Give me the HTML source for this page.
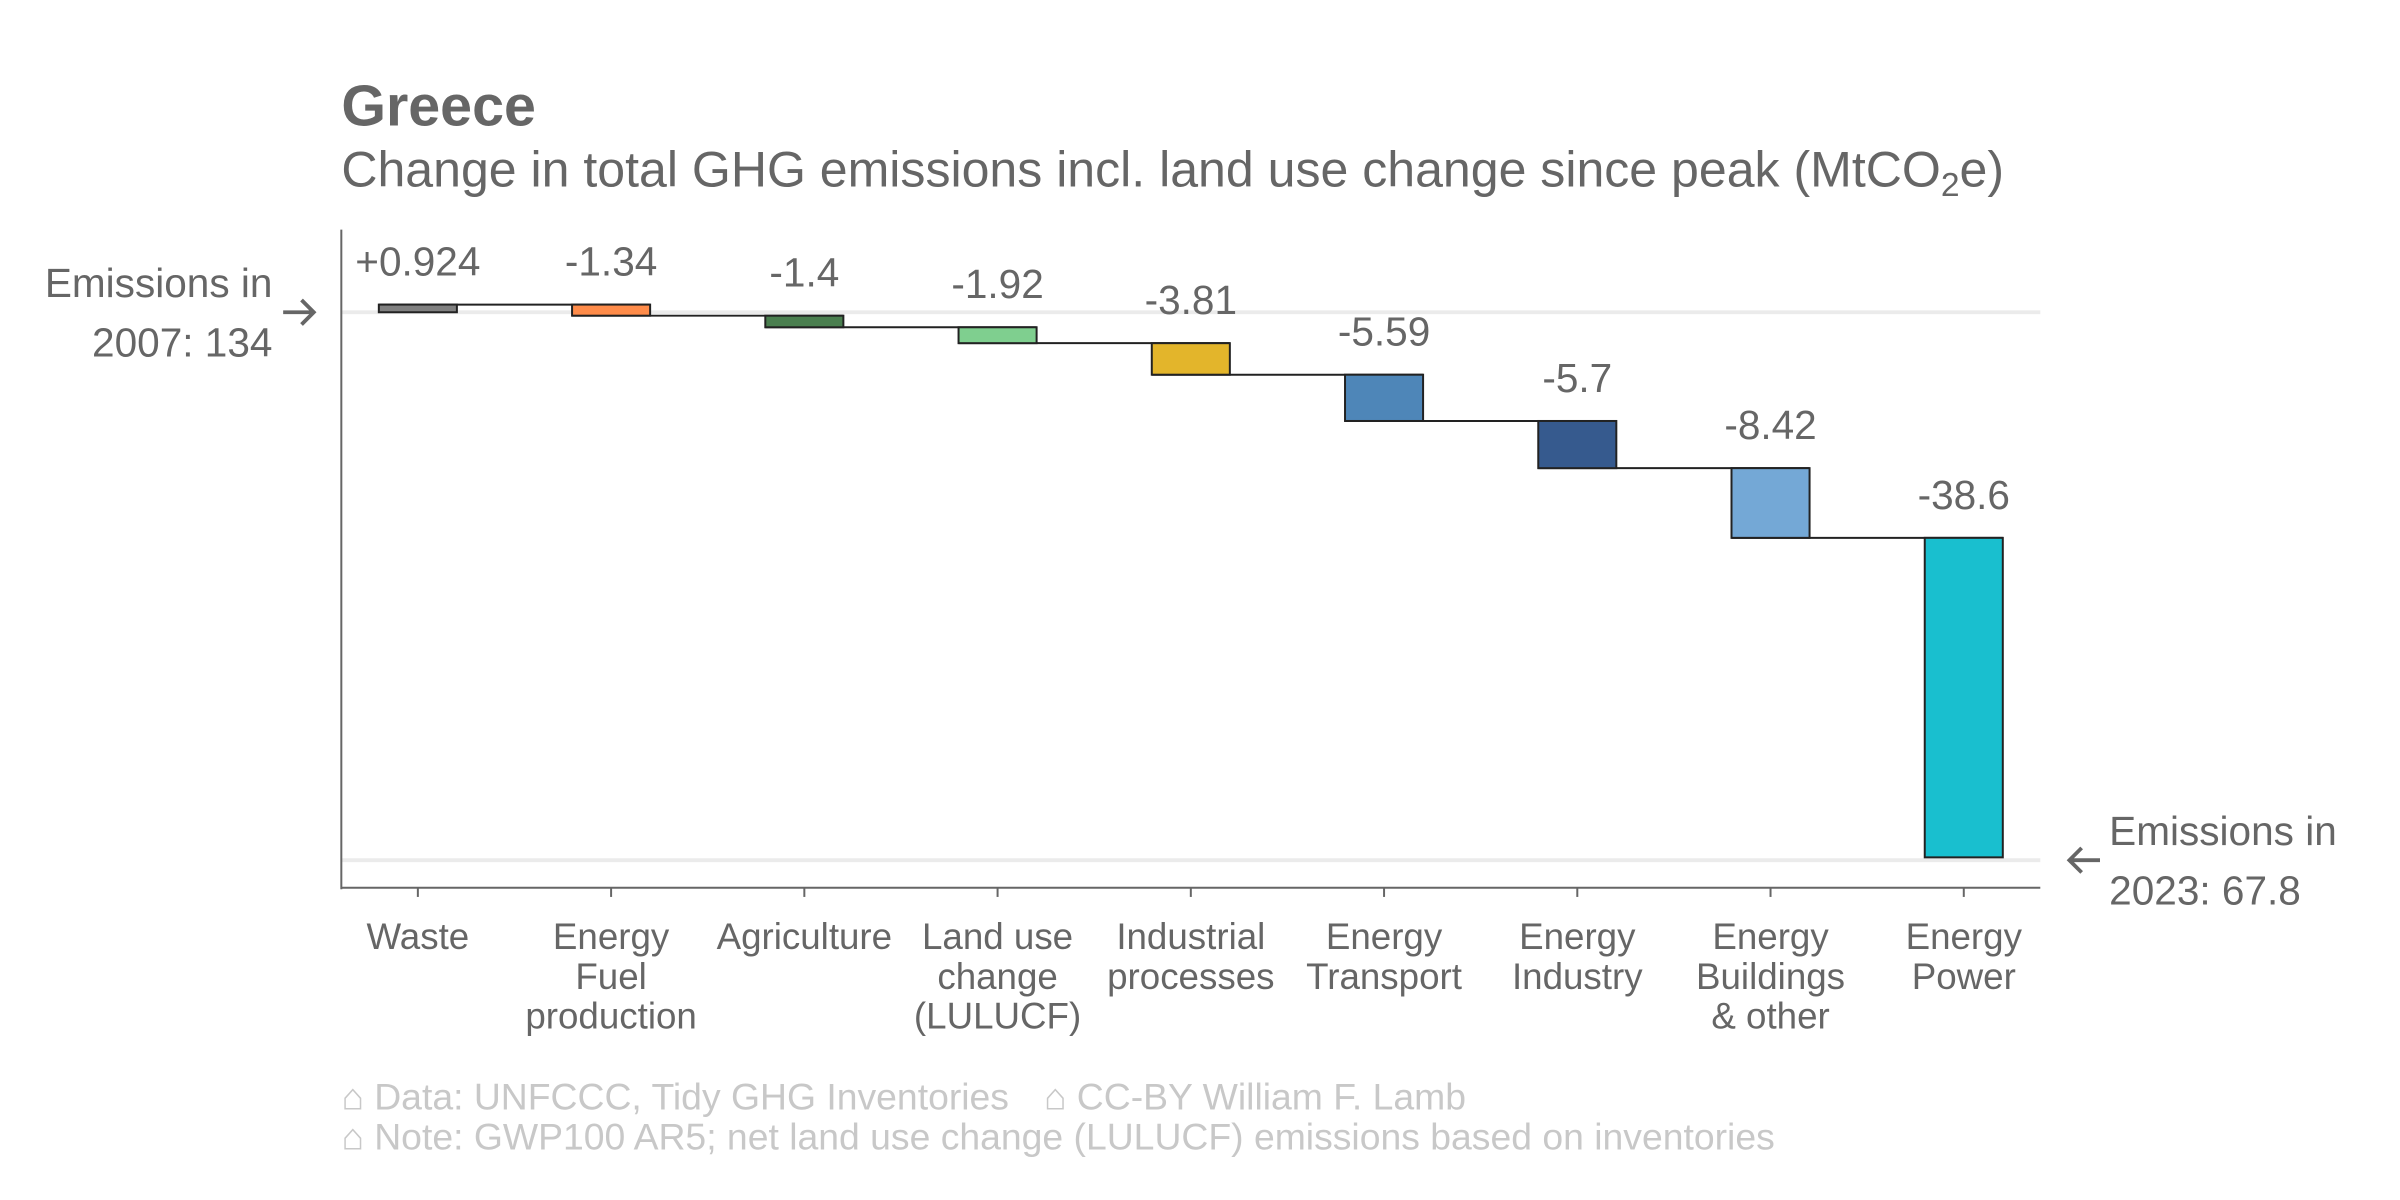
<!DOCTYPE html>
<html><head><meta charset="utf-8"><style>
html,body{margin:0;padding:0;background:#fff;}
svg{display:block;font-family:"Liberation Sans",Arial,sans-serif;}
</style></head><body>
<svg id="chart" width="2400" height="1200" viewBox="0 0 1568 784" xmlns="http://www.w3.org/2000/svg">
<text x="223" y="82" font-size="37.5" font-weight="bold" fill="#666">Greece</text>
<text x="223" y="122" font-size="32.7" fill="#666">Change in total GHG emissions incl. land use change since peak (MtCO<tspan font-size="22" dy="6">2</tspan><tspan dy="-6">e)</tspan></text>
<g id="grid"></g>
<line x1="223" y1="150" x2="223" y2="581" stroke="#666" stroke-width="1.3"/>
<line x1="223" y1="580" x2="1333" y2="580" stroke="#666" stroke-width="1.3"/>
<g id="bars"></g>
<g id="xlabels"></g>
<g fill="#666" font-size="26.5">
<text x="178" y="194" text-anchor="end">Emissions in</text>
<text x="178" y="233" text-anchor="end">2007: 134</text>
</g>
<path d="M185 204 H205 M197 196 L205 204 L197 212" stroke="#666" stroke-width="2.5" fill="none"/>
<path d="M1372 562 H1352 M1360 554 L1352 562 L1360 570" stroke="#666" stroke-width="2.5" fill="none"/>
<g fill="#666" font-size="26.5">
<text x="1378" y="552">Emissions in</text>
<text x="1378" y="591">2023: 67.8</text>
</g>
<g fill="#c8c8c8" font-size="24.4">
<text x="223" y="725">⌂ Data: UNFCCC, Tidy GHG Inventories</text>
<text x="682" y="725">⌂ CC-BY William F. Lamb</text>
<text x="223" y="751">⌂ Note: GWP100 AR5; net land use change (LULUCF) emissions based on inventories</text>
</g>
</svg>
<script>
const categories = [["Waste"],["Energy","Fuel","production"],["Agriculture"],["Land use","change","(LULUCF)"],["Industrial","processes"],["Energy","Transport"],["Energy","Industry"],["Energy","Buildings","& other"],["Energy","Power"]];
const values = [0.924,-1.34,-1.4,-1.92,-3.81,-5.59,-5.7,-8.42,-38.6];
const valueLabels = ["+0.924","-1.34","-1.4","-1.92","-3.81","-5.59","-5.7","-8.42","-38.6"];
const colors = ["#808080","#ff8c4a","#4a7f4f","#7fcf8f","#e3b52b","#4e86b8","#365a8e","#74a8d6","#19bfcf"];
const startValue = 134;
const endValue = 67.8;

const NS="http://www.w3.org/2000/svg";
const y = v => 204 + (startValue - v) * (562-204)/(startValue-endValue);
const x = i => 273 + i*126.25;
const bw = 51;
function mk(tag, attrs, parent){const e=document.createElementNS(NS,tag);for(const k in attrs)e.setAttribute(k,attrs[k]);parent.appendChild(e);return e;}
const grid=document.getElementById('grid'), bars=document.getElementById('bars'), xl=document.getElementById('xlabels');
[startValue,endValue].forEach(v=>{
  const l=mk('line',{x1:223,x2:1333,y1:y(v),y2:y(v),stroke:'#ebebeb','stroke-width':2.5},grid);
  
  
});
let cum=startValue;
values.forEach((v,i)=>{
  const a=cum, b=cum+v;
  const top=Math.min(y(a),y(b)), h=Math.abs(y(a)-y(b));
  if(i<values.length-1){
    const c=mk('line',{x1:x(i)-bw/2,x2:x(i+1)+bw/2,y1:y(b),y2:y(b),stroke:'#222','stroke-width':1.3},bars);
    
    
  }
  const r=mk('rect',{x:x(i)-bw/2,y:top,width:bw,height:Math.max(h,1),fill:colors[i],stroke:'#222','stroke-width':1.3},bars);
  
  
  const t=mk('text',{x:x(i),y:top-19,'text-anchor':'middle','font-size':26.5,fill:'#666'},bars);
  t.textContent=valueLabels[i];
  
  
  const tk=mk('line',{x1:x(i),x2:x(i),y1:580,y2:586,stroke:'#666','stroke-width':1.3},xl);
  
  
  const lt=mk('text',{x:x(i),y:620,'text-anchor':'middle','font-size':24,fill:'#666'},xl);
  
  
  categories[i].forEach((s,j)=>{const sp=mk('tspan',{x:x(i),dy:j?26:0},lt);sp.textContent=s;});
  cum=b;
});
</script>
</body></html>
